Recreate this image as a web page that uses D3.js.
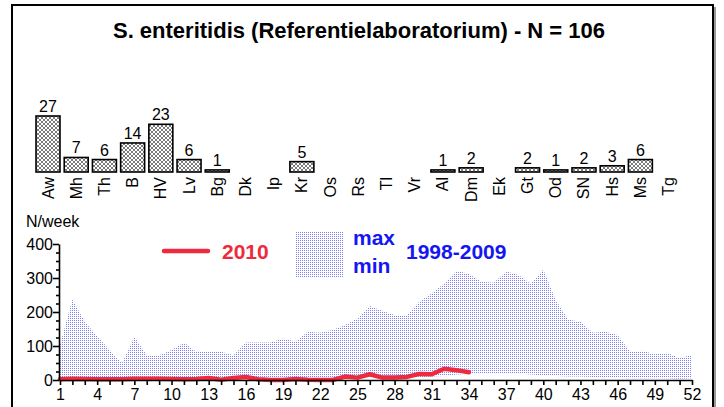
<!DOCTYPE html>
<html>
<head>
<meta charset="utf-8">
<script src="https://cdn.jsdelivr.net/npm/d3@7"></script>
<style>
  html, body { margin: 0; padding: 0; background: #fff; }
  svg { display: block; font-family: "Liberation Sans", Arial, sans-serif; }
</style>
</head>
<body>
<script>
// Isolates per laboratory
const labCodes = ["Aw","Mh","Th","B","HV","Lv","Bg","Dk","Ip","Kr","Os","Rs","Tl","Vr","Al","Dm","Ek","Gt","Od","SN","Hs","Ms","Tg"];
const labCounts = [27,7,6,14,23,6,1,0,0,5,0,0,0,0,1,2,0,2,1,2,3,6,0];

// Weekly counts
const weeks = d3.range(1, 53);
const weekTickLabels = [1,4,7,10,13,16,19,22,25,28,31,34,37,40,43,46,49,52];
const valueTickLabels = [0,100,200,300,400];
const max19982009 = [103,237,171,129,88,49,127,73,73,88,110,83,83,83,73,110,110,110,122,113,142,139,147,162,181,218,204,191,191,230,255,284,321,312,289,286,319,309,282,325,235,178,171,139,142,132,83,86,76,80,64,74];
const min19982009 = [2,3,3,2,2,2,3,3,3,3,2,2,3,2,3,4,4,3,3,3,4,4,5,5,6,8,7,6,6,8,10,12,16,18,18,18,20,19,16,14,12,10,10,9,8,6,5,5,5,5,4,5];
const cases2010 = [2,4,3,2,2,2,4,4,4,3,2,3,6,1,6,9,2,0,0,3,1,0,0,10,7,17,7,7,9,18,17,33,29,23];

const RED = "#ee2b3d";
const BLUE = "#1616f5";

const W = 724, H = 407;
const svg = d3.select("body").append("svg").attr("width", W).attr("height", H);

const defs = svg.append("defs");
const hatch = defs.append("pattern").attr("id", "hatch")
  .attr("patternUnits", "userSpaceOnUse").attr("width", 4).attr("height", 4);
hatch.append("rect").attr("width", 4).attr("height", 4).attr("fill", "#fff");
hatch.append("path").attr("d", "M0,0L4,4M4,0L0,4")
  .attr("stroke", "#444").attr("stroke-width", 0.7);

const dots = defs.append("pattern").attr("id", "dots")
  .attr("patternUnits", "userSpaceOnUse").attr("width", 2).attr("height", 2);
dots.append("rect").attr("width", 2).attr("height", 2).attr("fill", "#fff");
dots.append("rect").attr("width", 1).attr("height", 1).attr("fill", "#8080ff");

// Frame
svg.append("rect").attr("x", 12).attr("y", 5).attr("width", 701).attr("height", 420)
  .attr("fill", "none").attr("stroke", "#000").attr("stroke-width", 2);
svg.append("line").attr("x1", 715).attr("x2", 715).attr("y1", 7).attr("y2", H)
  .attr("stroke", "#999").attr("stroke-width", 2);

// Title
svg.append("text").attr("x", 359).attr("y", 38).attr("text-anchor", "middle")
  .attr("font-size", 22).attr("font-weight", "bold")
  .text("S. enteritidis (Referentielaboratorium) - N = 106");

// Laboratory bars
const xb = d3.scaleBand().domain(labCodes).range([33.9, 682.7])
  .paddingInner(0.15).paddingOuter(0.075);
const yb = d3.scaleLinear().domain([0, 27]).range([172, 116]);

const labData = labCodes.map((c, i) => ({ code: c, n: labCounts[i] }));
const gBars = svg.append("g");
gBars.selectAll("rect").data(labData.filter(d => d.n > 0)).join("rect")
  .attr("x", d => xb(d.code)).attr("width", xb.bandwidth())
  .attr("y", d => yb(d.n)).attr("height", d => yb(0) - yb(d.n))
  .attr("fill", "url(#hatch)").attr("stroke", "#000").attr("stroke-width", 1.6);
gBars.selectAll("text.val").data(labData.filter(d => d.n > 0)).join("text")
  .attr("class", "val")
  .attr("x", d => xb(d.code) + xb.bandwidth() / 2).attr("y", d => yb(d.n) - 4)
  .attr("text-anchor", "middle").attr("font-size", 16).text(d => d.n);
gBars.selectAll("text.lab").data(labData).join("text")
  .attr("class", "lab")
  .attr("transform", d => `translate(${xb(d.code) + xb.bandwidth() / 2 + 5.5},177) rotate(-90)`)
  .attr("text-anchor", "end").attr("font-size", 16).text(d => d.code);

// Weekly chart
const x = d3.scaleLinear().domain([1, 52]).range([60, 692]);
const y = d3.scaleLinear().domain([0, 400]).range([380, 244]);

const band = weeks.map((w, i) => ({ w, lo: min19982009[i], hi: max19982009[i] }));
svg.append("path").datum(band)
  .attr("fill", "url(#dots)")
  .attr("d", d3.area().x(d => x(d.w)).y0(d => y(d.lo)).y1(d => y(d.hi)));

svg.append("path").datum(cases2010)
  .attr("fill", "none").attr("stroke", RED).attr("stroke-width", 4.5)
  .attr("stroke-linejoin", "round").attr("stroke-linecap", "round")
  .attr("d", d3.line().x((d, i) => x(weeks[i])).y(d => y(d)));

// Axes
const xAxis = svg.append("g").attr("transform", `translate(0,${y(0)})`)
  .call(d3.axisBottom(x).tickValues(weeks).tickSize(5).tickSizeOuter(0)
    .tickFormat(d => weekTickLabels.includes(d) ? d : ""));
xAxis.select(".domain").attr("stroke-width", 1.6);
xAxis.selectAll(".tick line").attr("stroke-width", 1.6);
xAxis.selectAll(".tick text").attr("font-size", 16).attr("fill", "#000")
  .attr("font-family", "Liberation Sans, Arial, sans-serif").attr("dy", "0.75em").attr("y", 8);

const yAxis = svg.append("g").attr("transform", `translate(${x(1) - 1},0)`)
  .call(d3.axisLeft(y).tickValues(d3.range(0, 401, 25)).tickSize(6).tickSizeOuter(0)
    .tickFormat(d => valueTickLabels.includes(d) ? d : ""));
yAxis.select(".domain").attr("stroke-width", 1.6);
yAxis.selectAll(".tick line").attr("stroke-width", 1.6)
  .attr("x2", d => valueTickLabels.includes(d) ? -6 : -3);
yAxis.selectAll(".tick text").attr("font-size", 16).attr("fill", "#000")
  .attr("font-family", "Liberation Sans, Arial, sans-serif").attr("x", -6);

svg.append("text").attr("x", 26).attr("y", 227).attr("font-size", 16).text("N/week");

// Legend
svg.append("line").attr("x1", 164).attr("x2", 208).attr("y1", 251).attr("y2", 251)
  .attr("stroke", RED).attr("stroke-width", 4.5).attr("stroke-linecap", "round");
svg.append("text").attr("x", 222).attr("y", 259).attr("font-size", 21)
  .attr("font-weight", "bold").attr("fill", RED).text("2010");
svg.append("rect").attr("x", 296).attr("y", 232).attr("width", 47).attr("height", 45)
  .attr("fill", "url(#dots)");
svg.append("text").attr("x", 353).attr("y", 245).attr("font-size", 21)
  .attr("font-weight", "bold").attr("fill", BLUE).text("max");
svg.append("text").attr("x", 353).attr("y", 273).attr("font-size", 21)
  .attr("font-weight", "bold").attr("fill", BLUE).text("min");
svg.append("text").attr("x", 406).attr("y", 259).attr("font-size", 21)
  .attr("font-weight", "bold").attr("fill", BLUE).text("1998-2009");
</script>
</body>
</html>
